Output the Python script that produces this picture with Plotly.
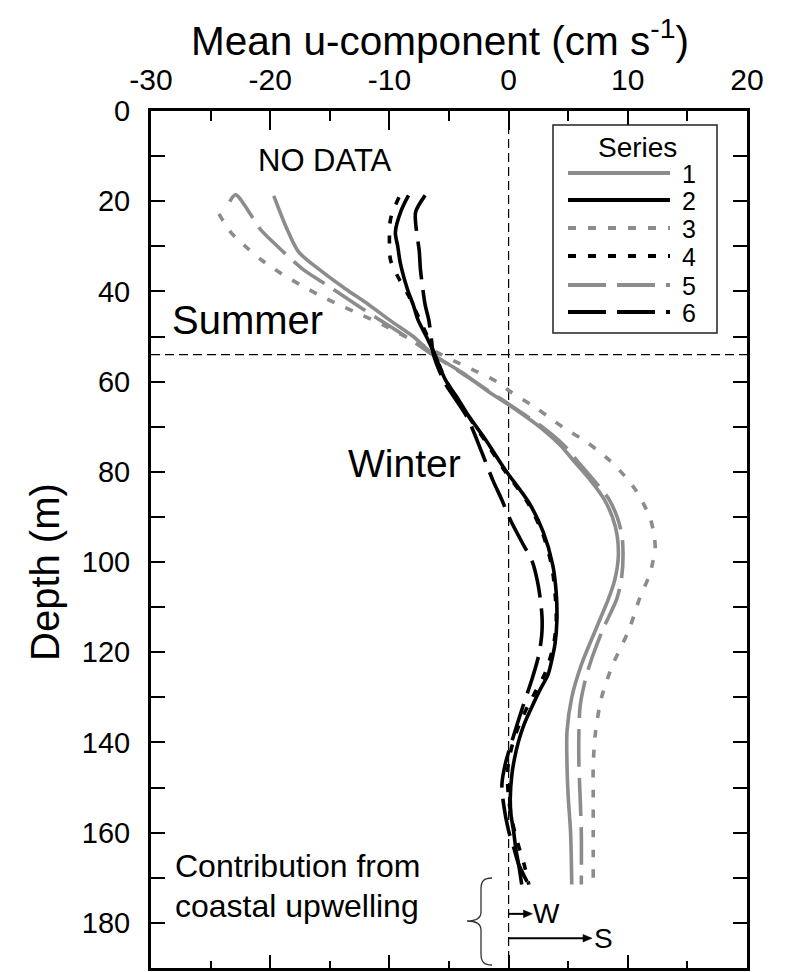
import plotly.graph_objects as go

# ---------------- data ----------------
depth_1 = [18.8, 26.1, 31.3, 35.5, 39.4, 43, 46.7, 50, 54, 58, 62, 66, 70, 74, 78, 82, 86, 90, 94, 99, 104, 108, 115, 122.8, 130, 137.5, 145, 152, 160, 171.5]
u_1 = [-19.7, -18.6, -17.6, -15.7, -13.7, -11.7, -9.8, -8.0, -6.3, -3.9, -1.8, 0.5, 2.6, 4.3, 5.6, 6.9, 8.0, 8.7, 9.1, 9.2, 8.9, 8.4, 7.3, 6.1, 5.3, 4.9, 4.9, 5.0, 5.2, 5.3]

depth_2 = [18.7, 22, 26.9, 30, 33.5, 39.4, 43, 46.3, 50, 54, 59.6, 64, 67.8, 73, 79.5, 86.8, 93.3, 100.6, 107, 113, 118, 122, 125, 128.5, 132.4, 136, 139.7, 143.5, 147, 152.3, 156, 159.7, 163.5, 167, 171.5]
u_2 = [-8.4, -9.0, -9.5, -9.3, -9.1, -8.5, -8.0, -7.6, -6.9, -6.2, -5.3, -4.2, -3.3, -1.9, -0.3, 1.7, 2.9, 3.7, 4.0, 4.05, 3.9, 3.6, 3.3, 2.6, 1.9, 1.3, 0.84, 0.5, 0.28, 0.14, 0.2, 0.42, 0.6, 0.84, 1.1]

depth_3 = [22.8, 26.9, 30.2, 33.1, 36, 38.5, 40.8, 43, 45, 47.5, 50.5, 53, 55.5, 57.5, 60, 62.3, 66, 70, 73.5, 77.3, 80.5, 83.8, 87, 90.4, 94, 97, 100, 103, 108, 115, 123, 130, 137.5, 145, 152, 160, 170]
u_3 = [-24.3, -23.3, -22.0, -20.7, -19.1, -17.5, -15.9, -14.2, -12.5, -10.5, -8.3, -6.4, -4.5, -2.9, -1.0, 0.2, 2.4, 4.5, 6.6, 8.4, 9.6, 10.6, 11.3, 11.9, 12.2, 12.3, 12.1, 11.8, 11.0, 10.1, 8.7, 7.8, 7.3, 7.1, 7.1, 7.1, 7.1]

depth_4 = [19.1, 23.9, 28.7, 33.1, 37.2, 40.9, 46, 50, 54, 60, 66, 73, 79.5, 86.8, 93.3, 100.6, 107, 113, 118, 122, 125, 128.5, 132, 136, 139.7, 143.5, 147, 152.3, 156, 159.7, 163.5, 167, 171.5]
u_4 = [-9.2, -9.9, -10.0, -9.9, -9.2, -8.4, -7.5, -6.8, -6.2, -5.2, -3.8, -2.0, -0.4, 1.6, 2.8, 3.6, 3.9, 4.0, 3.8, 3.4, 3.0, 2.3, 1.6, 0.9, 0.4, 0.05, -0.1, 0.0, 0.2, 0.5, 0.9, 1.3, 1.7]

depth_5 = [20.1, 18.6, 26.3, 28.7, 35, 38.5, 42, 45.5, 49, 52, 54, 58, 62, 66, 70, 74, 78, 82, 86, 90, 94, 98, 103, 108, 115, 122, 126.5, 132, 137.5, 145, 152, 160, 171.5]
u_5 = [-23.4, -22.9, -20.8, -19.9, -17.3, -15.3, -13.3, -11.3, -9.2, -7.5, -6.4, -4.0, -1.7, 0.6, 2.8, 4.6, 5.9, 7.2, 8.4, 9.1, 9.5, 9.6, 9.5, 9.1, 7.9, 6.9, 6.4, 6.0, 5.9, 5.9, 6.0, 6.1, 6.1]

depth_6 = [18.7, 22.4, 27.2, 30.9, 35, 39.4, 43, 46.3, 50, 54, 60, 67.8, 76, 82, 86, 90.4, 95, 100, 104, 108, 112, 115.4, 118, 121, 126, 132.8, 139.7, 144.8, 149.3, 153.7, 159.6, 163, 167, 171.5]
u_6 = [-7.0, -7.8, -7.7, -7.5, -7.4, -7.2, -7.0, -6.7, -6.5, -6.3, -5.4, -3.5, -2.2, -1.3, -0.6, 0.1, 1.0, 2.0, 2.4, 2.65, 2.8, 2.8, 2.7, 2.5, 1.96, 1.1, 0.28, -0.28, -0.56, -0.42, 0.0, 0.4, 0.84, 1.68]

series_names = ["1", "2", "3", "4", "5", "6"]
x_tick_vals = [-30, -20, -10, 0, 10, 20]
x_tick_text = ["-30", "-20", "-10", "0", "10", "20"]
y_tick_vals = [0, 20, 40, 60, 80, 100, 120, 140, 160, 180]
y_tick_text = ["0", "20", "40", "60", "80", "100", "120", "140", "160", "180"]
season_boundary_depth = 54
w_arrow_u = 2.0
s_arrow_u = 7.0
w_arrow_depth = 178
s_arrow_depth = 183.4

# ---------------- styling ----------------
GRAY = "#8c8c8c"
BLACK = "#000000"
FONT = "Liberation Sans, Arial, Helvetica, sans-serif"
LW = 3.6
DOT = "8px,12px"
LDASH = "38px,11px"
styles = [
    (GRAY, "solid"), (BLACK, "solid"), (GRAY, DOT),
    (BLACK, DOT), (GRAY, LDASH), (BLACK, LDASH),
]
all_depths = [depth_1, depth_2, depth_3, depth_4, depth_5, depth_6]
all_u = [u_1, u_2, u_3, u_4, u_5, u_6]

W, H = 787, 972
PL, PR, PT, PB = 151, 747, 111, 968
XMIN, XMAX, YMAX = -30, 20, 190
UX = (PR - PL) / (XMAX - XMIN)   # px per u-unit
UY = (PB - PT) / YMAX            # px per metre


def pxx(px):
    return (px - PL) / (PR - PL)


def pxy(py):
    return (PB - py) / (PB - PT)


fig = go.Figure()

# gray first, black on top
for i in [0, 2, 4, 1, 3, 5]:
    col, dash = styles[i]
    fig.add_trace(go.Scatter(
        x=all_u[i], y=all_depths[i], mode="lines",
        line=dict(color=col, width=LW, dash=dash, shape="spline", smoothing=0.8),
        name=series_names[i], showlegend=False, hoverinfo="skip",
    ))

# invisible trace for bottom axis
fig.add_trace(go.Scatter(x=[None], y=[None], xaxis="x2", yaxis="y", showlegend=False))

shapes = []
# reference dashed lines
shapes.append(dict(type="line", xref="x", yref="y", x0=0, x1=0, y0=0, y1=YMAX,
                   line=dict(color="black", width=1.2, dash="9px,5px"), layer="below"))
shapes.append(dict(type="line", xref="x", yref="y", x0=XMIN, x1=XMAX,
                   y0=season_boundary_depth, y1=season_boundary_depth,
                   line=dict(color="black", width=1.2, dash="9px,5px"), layer="below"))

# legend box
shapes.append(dict(type="rect", xref="paper", yref="paper",
                   x0=pxx(553), x1=pxx(717), y0=pxy(333), y1=pxy(125),
                   line=dict(color="#222", width=1.5), fillcolor="white", layer="above"))
row_y = [173, 200, 228, 256, 285, 312]
annotations = []
for i, ry in enumerate(row_y):
    col, dash = styles[i]
    shapes.append(dict(type="line", xref="paper", yref="paper",
                       x0=pxx(568), x1=pxx(670), y0=pxy(ry), y1=pxy(ry),
                       line=dict(color=col, width=LW + 0.6, dash=dash), layer="above"))
    annotations.append(dict(text=series_names[i], xref="paper", yref="paper",
                            x=pxx(689), y=pxy(ry + 1), showarrow=False,
                            font=dict(family=FONT, size=25, color="black"),
                            xanchor="center", yanchor="middle", borderpad=0))
annotations.append(dict(text="Series", xref="paper", yref="paper",
                        x=pxx(637), y=pxy(147), showarrow=False,
                        font=dict(family=FONT, size=28, color="black"),
                        xanchor="center", yanchor="middle"))

# brace
bp = [(492, 878), (484, 878), (481, 881), (481, 889), (481, 912), (481, 918), (476, 921), (467, 921),
      (476, 921), (481, 924), (481, 930), (481, 954), (481, 962), (484, 965), (492, 965)]
P = [(pxx(a), pxy(b)) for a, b in bp]
path = ("M {0[0]},{0[1]} C {1[0]},{1[1]} {2[0]},{2[1]} {3[0]},{3[1]} L {4[0]},{4[1]} "
        "C {5[0]},{5[1]} {6[0]},{6[1]} {7[0]},{7[1]} C {8[0]},{8[1]} {9[0]},{9[1]} {10[0]},{10[1]} "
        "L {11[0]},{11[1]} C {12[0]},{12[1]} {13[0]},{13[1]} {14[0]},{14[1]}").format(*P)
shapes.append(dict(type="path", xref="paper", yref="paper", path=path,
                   line=dict(color="#333", width=1.3)))

# arrows W and S (line + filled head, in data coordinates)
HEAD_L = 9 / UX
HEAD_H = 3.8 / UY
for xu, yd in [(w_arrow_u, w_arrow_depth), (s_arrow_u, s_arrow_depth)]:
    shapes.append(dict(type="line", xref="x", yref="y", x0=0, x1=xu - HEAD_L * 0.6, y0=yd, y1=yd,
                       line=dict(color="black", width=2)))
    shapes.append(dict(type="path", xref="x", yref="y",
                       path=f"M {xu},{yd} L {xu - HEAD_L},{yd - HEAD_H} L {xu - HEAD_L},{yd + HEAD_H} Z",
                       fillcolor="black", line=dict(color="black", width=0.5)))


# text labels
def txt(t, x, y, size, xanchor="center"):
    annotations.append(dict(text=t, xref="paper", yref="paper", x=pxx(x), y=pxy(y),
                            showarrow=False, xanchor=xanchor, yanchor="middle",
                            font=dict(family=FONT, size=size, color="black")))


txt("Mean u-component (cm s<sup>-1</sup>)", 440, 38, 40.5)
txt("NO DATA", 325, 160, 31)
txt("Summer", 247, 320, 40)
txt("Winter", 404, 463, 39)
txt("Contribution from", 173, 866, 32, "left")
txt("coastal upwelling", 173, 906, 32, "left")
annotations.append(dict(text="Depth (m)", xref="paper", yref="paper", x=pxx(45), y=pxy(572),
                        showarrow=False, textangle=-90, xanchor="center", yanchor="middle",
                        font=dict(family=FONT, size=40, color="black")))
annotations.append(dict(text="W", xref="x", yref="y", x=w_arrow_u + 1.2, y=w_arrow_depth,
                        showarrow=False, font=dict(family=FONT, size=28, color="black"),
                        xanchor="center", yanchor="middle"))
annotations.append(dict(text="S", xref="x", yref="y", x=s_arrow_u + 1.0, y=s_arrow_depth,
                        showarrow=False, font=dict(family=FONT, size=28, color="black"),
                        xanchor="center", yanchor="middle"))

fig.update_layout(
    width=W, height=H,
    margin=dict(l=PL, r=W - PR, t=PT, b=H - PB, pad=0),
    paper_bgcolor="white", plot_bgcolor="white",
    font=dict(family=FONT, color="black"),
    showlegend=False,
    shapes=shapes, annotations=annotations,
    xaxis=dict(
        side="top", range=[XMIN, XMAX], tickvals=x_tick_vals, ticktext=x_tick_text,
        ticks="inside", ticklen=19, tickwidth=1.6, tickcolor="black",
        minor=dict(dtick=5, tick0=0, ticks="inside", ticklen=10, tickwidth=1.6, tickcolor="black"),
        showline=True, linewidth=3, linecolor="black", mirror=False,
        showgrid=False, zeroline=False,
        tickfont=dict(family=FONT, size=30, color="black"), ticklabelstandoff=6,
    ),
    xaxis2=dict(
        side="bottom", overlaying="x", range=[XMIN, XMAX], tickvals=x_tick_vals,
        showticklabels=False, ticks="inside", ticklen=13, tickwidth=1.6, tickcolor="black",
        minor=dict(dtick=5, tick0=0, ticks="inside", ticklen=7, tickwidth=1.6, tickcolor="black"),
        showline=True, linewidth=3, linecolor="black",
        showgrid=False, zeroline=False,
    ),
    yaxis=dict(
        range=[YMAX, 0], tickvals=y_tick_vals, ticktext=y_tick_text,
        ticks="inside", ticklen=14, tickwidth=1.6, tickcolor="black",
        minor=dict(dtick=10, tick0=0, ticks="inside", ticklen=14, tickwidth=1.6, tickcolor="black"),
        showline=True, linewidth=3, linecolor="black", mirror="ticks",
        showgrid=False, zeroline=False,
        tickfont=dict(family=FONT, size=29, color="black"), ticklabelstandoff=12,
    ),
)

fig.write_html("out.html")
